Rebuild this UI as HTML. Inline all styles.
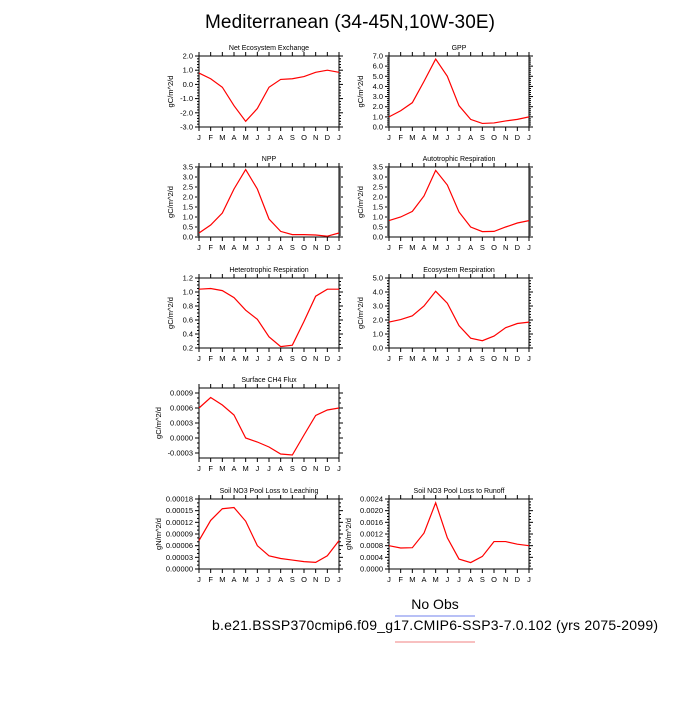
<!DOCTYPE html>
<html><head><meta charset="utf-8"><style>
body{margin:0;background:#fff;width:700px;height:700px;overflow:hidden}
svg text{font-family:"Liberation Sans",sans-serif;fill:#000}
</style></head><body>
<svg id="chart" width="700" height="700" xmlns="http://www.w3.org/2000/svg">
<text x="350" y="28" font-size="19" text-anchor="middle" textLength="290">Mediterranean (34-45N,10W-30E)</text>
<text x="435" y="609" font-size="14" text-anchor="middle">No Obs</text>
<line x1="395" x2="475" y1="616" y2="616" stroke="#7080ee" stroke-width="1"/>
<text x="435" y="630" font-size="14" text-anchor="middle" textLength="446">b.e21.BSSP370cmip6.f09_g17.CMIP6-SSP3-7.0.102 (yrs 2075-2099)</text>
<line x1="395" x2="475" y1="642" y2="642" stroke="#f08080" stroke-width="1"/>
<g id="panels"></g>
</svg>
<script>
const months = ["J","F","M","A","M","J","J","A","S","O","N","D","J"];
const titles = ["Net Ecosystem Exchange","GPP","NPP","Autotrophic Respiration","Heterotrophic Respiration","Ecosystem Respiration","Surface CH4 Flux","Soil NO3 Pool Loss to Leaching","Soil NO3 Pool Loss to Runoff"];
const units = ["gC/m^2/d","gC/m^2/d","gC/m^2/d","gC/m^2/d","gC/m^2/d","gC/m^2/d","gC/m^2/d","gN/m^2/d","gN/m^2/d"];
const neeValues = [0.8,0.4,-0.2,-1.5,-2.6,-1.7,-0.2,0.35,0.4,0.55,0.85,1.0,0.85];
const gppValues = [1.0,1.6,2.4,4.5,6.7,5.0,2.1,0.75,0.35,0.4,0.6,0.75,1.0];
const nppValues = [0.2,0.6,1.2,2.4,3.37,2.4,0.9,0.28,0.12,0.12,0.1,0.04,0.2];
const arValues = [0.82,1.0,1.28,2.05,3.33,2.6,1.25,0.5,0.27,0.28,0.5,0.7,0.82];
const hrValues = [1.04,1.05,1.02,0.92,0.74,0.61,0.36,0.22,0.24,0.58,0.94,1.04,1.04];
const erValues = [1.85,2.03,2.3,3.0,4.05,3.2,1.6,0.7,0.52,0.85,1.45,1.75,1.85];
const ch4Values = [0.0006,0.00081,0.00066,0.00046,0.0,-0.00008,-0.00018,-0.00032,-0.00034,0.00006,0.00045,0.00056,0.0006];
const leachValues = [0.000073,0.000125,0.000155,0.000158,0.000123,0.00006,0.000034,0.000027,0.000023,0.000019,0.000017,0.000034,0.000073];
const runoffValues = [0.0008,0.00072,0.00073,0.00123,0.00227,0.00107,0.00034,0.00022,0.00043,0.00094,0.00094,0.00085,0.0008];
const neeTicks = ["2.0","1.0","0.0","-1.0","-2.0","-3.0"];
const gppTicks = ["0.0","1.0","2.0","3.0","4.0","5.0","6.0","7.0"];
const nppTicks = ["0.0","0.5","1.0","1.5","2.0","2.5","3.0","3.5"];
const hrTicks = ["0.2","0.4","0.6","0.8","1.0","1.2"];
const erTicks = ["0.0","1.0","2.0","3.0","4.0","5.0"];
const ch4Ticks = ["-0.0003","0.0000","0.0003","0.0006","0.0009"];
const leachTicks = ["0.00000","0.00003","0.00006","0.00009","0.00012","0.00015","0.00018"];
const runoffTicks = ["0.0000","0.0004","0.0008","0.0012","0.0016","0.0020","0.0024"];

const panels = [
 {d:neeValues,t:neeTicks,min:-3,max:2,x:199,y:56,h:71,m:5},
 {d:gppValues,t:gppTicks,min:0,max:7,x:389,y:56,h:71,m:5},
 {d:nppValues,t:nppTicks,min:0,max:3.5,x:199,y:167,h:70,m:5},
 {d:arValues,t:nppTicks,min:0,max:3.5,x:389,y:167,h:70,m:5},
 {d:hrValues,t:hrTicks,min:0.2,max:1.2,x:199,y:278,h:70,m:4},
 {d:erValues,t:erTicks,min:0,max:5,x:389,y:278,h:70,m:5},
 {d:ch4Values,t:ch4Ticks,min:-0.0004,max:0.001,x:199,y:388,h:70,m:3},
 {d:leachValues,t:leachTicks,min:0,max:0.00018,x:199,y:499,h:70,m:3},
 {d:runoffValues,t:runoffTicks,min:0,max:0.0024,x:389,y:499,h:70,m:4}
];
const NS="http://www.w3.org/2000/svg";
const root=document.getElementById('panels');
function mk(tag,attrs,parent){const e=document.createElementNS(NS,tag);for(const k in attrs)e.setAttribute(k,attrs[k]);parent.appendChild(e);return e;}
panels.forEach((p,i)=>{
 const W=140;
 const g=mk('g',{},root);
 
 
 const xs=k=>p.x+k*W/12;
 const ys=v=>p.y+p.h-(v-p.min)/(p.max-p.min)*p.h;
 const rect=mk('rect',{x:p.x,y:p.y,width:W,height:p.h,fill:'none',stroke:'#000','stroke-width':1},g);
 
 
 const tt=mk('text',{x:p.x+W/2,y:p.y-6,'font-size':7,'text-anchor':'middle'},g);
 tt.textContent=titles[i];
 
 
 const yt=mk('text',{transform:`translate(${p.x-(p.t[0].length>5?38:26)},${p.y+p.h/2}) rotate(-90)`,'font-size':7.5,'text-anchor':'middle'},g);
 yt.textContent=units[i];
 
 
 months.forEach((m,k)=>{
  const x=xs(k);
  mk('line',{x1:x,x2:x,y1:p.y+p.h,y2:p.y+p.h+4,stroke:'#000'},g);
  mk('line',{x1:x,x2:x,y1:p.y,y2:p.y-4,stroke:'#000'},g);
  const lt=mk('text',{x:x,y:p.y+p.h+13,'font-size':7.5,'text-anchor':'middle'},g);
  lt.textContent=m;
  
  
 });
 p.t.forEach((s,k)=>{
  const v=parseFloat(s);const y=ys(v);
  mk('line',{x1:p.x-4,x2:p.x,y1:y,y2:y,stroke:'#000'},g);
  mk('line',{x1:p.x+W,x2:p.x+W+4,y1:y,y2:y,stroke:'#000'},g);
  const lt=mk('text',{x:p.x-6,y:y+2.5,'font-size':7.5,'text-anchor':'end'},g);
  lt.textContent=s;
  
  
  if(k<p.t.length-1){
   const step=parseFloat(p.t[1])-parseFloat(p.t[0]);
   for(let j=1;j<p.m;j++){const yy=ys(v+step*j/p.m);
    if(yy<p.y||yy>p.y+p.h)continue;
    mk('line',{x1:p.x-2,x2:p.x,y1:yy,y2:yy,stroke:'#000'},g);
    mk('line',{x1:p.x+W,x2:p.x+W+2,y1:yy,y2:yy,stroke:'#000'},g);}
  }
 });
 const pl=mk('polyline',{points:p.d.map((v,k)=>xs(k)+','+ys(v)).join(' '),fill:'none',stroke:'#ff0000','stroke-width':1.2},g);
 
 
});
</script>
</body></html>
